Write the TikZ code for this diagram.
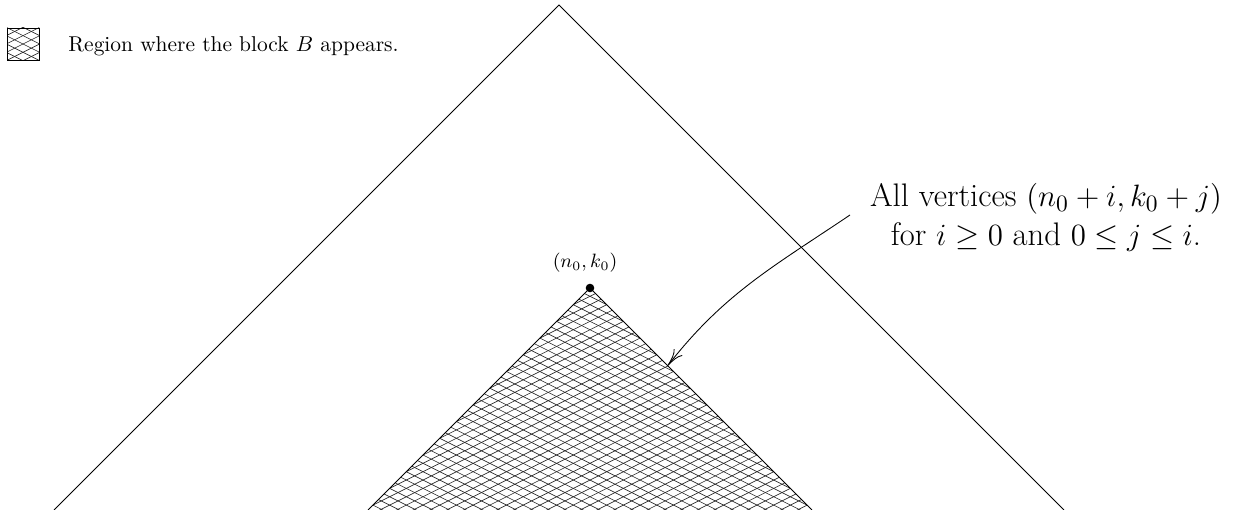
\documentclass[tikz,border=0pt]{standalone}
\usetikzlibrary{arrows.meta,calc}
\tikzset{
  edge/.style={line width=0.4pt, black},
  hatchline/.style={line width=0.3pt, black!85},
  pointer/.style={line width=0.4pt, -{To[length=8pt,width=5pt]}},
  lbl/.style={inner sep=0pt, font=\normalsize},
  pointlbl/.style={inner sep=0pt, font=\fontsize{9pt}{11pt}\selectfont},
  bigtext/.style={inner sep=0pt, align=center, font=\fontsize{15.2pt}{18pt}\selectfont},
}
\begin{document}
\begin{tikzpicture}[x=0.466pt,y=0.466pt]
\useasboundingbox (0,0) rectangle (1245,510);
% big triangle
\coordinate (top) at (559,505);
\coordinate (bigL) at (54,0);
\coordinate (bigR) at (1064,0);
\draw[edge] (bigL) -- (top) -- (bigR);
% hatched region
\coordinate (apex) at (590,222);
\coordinate (bl) at (368,0);
\coordinate (br) at (812,0);
\begin{scope}
  \clip (apex) -- (bl) -- (br) -- cycle;
  \foreach \k in {0,...,40} {
    \draw[hatchline] (360,{107-\k*8.35}) -- (820,{337-\k*8.35});
    \draw[hatchline] (360,{337-\k*8.35}) -- (820,{107-\k*8.35});
  }
\end{scope}
\draw[edge] (bl) -- (apex) -- (br);
\fill (apex) circle[radius=2pt];
\node[pointlbl, anchor=base] (lab) at (585,242) {$(n_0,k_0)$};
% annotation
\node[bigtext, anchor=north] (note) at (1046,327)
  {All vertices $(n_0+i,k_0+j)$\\ for $i\geq 0$ and $0\leq j\leq i$.};
\coordinate (from) at (850,295);
\coordinate (to) at ($(apex)!0.35!(br)$);
\draw[pointer] (from) to[out=214,in=52] (to);
% legend
\coordinate (sqA) at (7,450);
\coordinate (sqB) at (39,482);
\begin{scope}
  \clip (sqA) rectangle (sqB);
  \foreach \k in {-5,...,5} {
    \draw[hatchline] (0,{454.5+\k*8.35}) -- (50,{479.5+\k*8.35});
    \draw[hatchline] (0,{477.5+\k*8.35}) -- (50,{452.5+\k*8.35});
  }
\end{scope}
\draw[edge] (sqA) rectangle (sqB);
\node[lbl, anchor=base west] (leg) at (68,458) {Region where the block $B$ appears.};
\end{tikzpicture}
\end{document}
